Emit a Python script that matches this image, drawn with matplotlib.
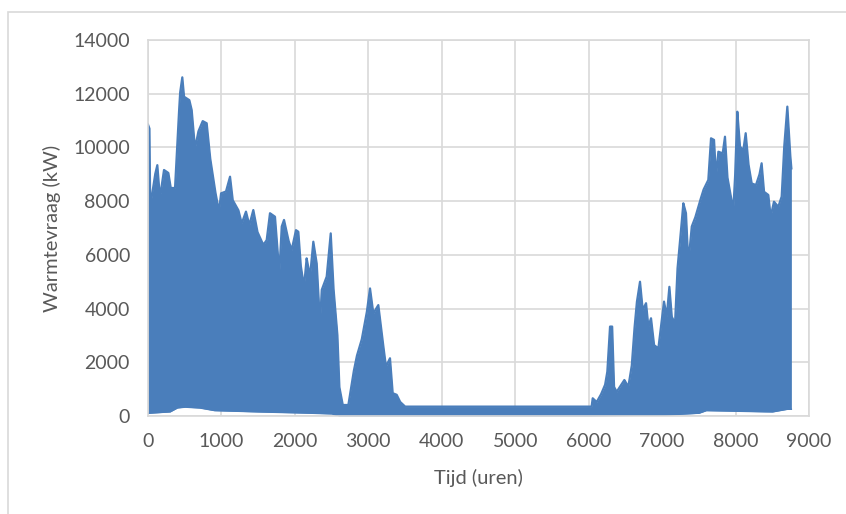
import numpy as np
import matplotlib
matplotlib.use("Agg")
import matplotlib.pyplot as plt
from matplotlib.patches import Rectangle

# upper envelope of the hourly heat demand (hour, kW)
upper_hours = [0, 20, 30, 95, 127, 150, 172, 218, 277, 309, 368, 399, 436, 467, 490,
               563, 595, 640, 685, 745, 799, 844, 912, 967, 994, 1062, 1117, 1153,
               1230, 1276, 1334, 1380, 1434, 1489, 1570, 1616, 1661, 1729, 1788, 1820,
               1852, 1911, 1956, 2015, 2047, 2079, 2124, 2160, 2206, 2251, 2297, 2342,
               2365, 2433, 2488, 2524, 2578, 2605, 2651, 2728, 2796, 2841, 2909, 2977,
               3023, 3068, 3136, 3182, 3240, 3295, 3331, 3386, 3431, 3499, 6040, 6055,
               6109, 6164, 6223, 6254, 6290, 6320, 6345, 6381, 6427, 6486, 6540, 6586,
               6618, 6654, 6699, 6736, 6781, 6813, 6849, 6890, 6949, 6995, 7026, 7063,
               7099, 7131, 7176, 7208, 7244, 7289, 7325, 7357, 7403, 7448, 7493, 7561,
               7629, 7666, 7707, 7734, 7766, 7825, 7856, 7888, 7969, 7992, 8024, 8060,
               8106, 8138, 8174, 8219, 8278, 8324, 8355, 8387, 8446, 8478, 8523, 8582,
               8628, 8659, 8705, 8741, 8760]
upper_kw = [10850, 10700, 7790, 8970, 9340, 8500, 8300, 9160, 9050, 8490, 8490, 10150,
            12010, 12610, 11890, 11760, 11390, 9960, 10590, 10980, 10900, 9650, 8410,
            7610, 8290, 8360, 8910, 8040, 7670, 7170, 7610, 7110, 7670, 6860, 6370,
            6550, 7550, 7420, 5310, 7050, 7300, 6550, 6180, 6920, 6860, 5620, 4810,
            5870, 5190, 6490, 5680, 3450, 4690, 5190, 6800, 4810, 3080, 1090, 410, 410,
            1590, 2210, 2830, 3820, 4750, 3820, 4130, 3080, 1840, 2150, 850, 790, 530,
            350, 350, 660, 520, 780, 1150, 1650, 3330, 3330, 1090, 900, 1090, 1340,
            1090, 1840, 3080, 4200, 5000, 3950, 4200, 3330, 3640, 2640, 2520, 3570,
            4260, 3700, 4810, 3700, 3450, 5440, 6500, 7920, 7550, 5680, 7050, 7360,
            7790, 8410, 8790, 10340, 10280, 8910, 9840, 9780, 10400, 8910, 7670, 8790,
            11330, 10030, 9900, 10530, 9410, 8660, 8600, 8970, 9410, 8350, 8230, 7420,
            7980, 7790, 8170, 9900, 11520, 9840, 9220]

# lower envelope (night-time minimum)
lower_hours = [0, 300, 400, 500, 700, 900, 1500, 2000, 2500, 2600, 3500, 6000, 7000,
               7500, 7600, 8000, 8500, 8700, 8760]
lower_kw = [100, 150, 300, 330, 300, 200, 150, 120, 80, 0, 0, 0, 30, 100, 200, 180,
            150, 250, 250]

xticks = [0, 1000, 2000, 3000, 4000, 5000, 6000, 7000, 8000, 9000]
yticks = [0, 2000, 4000, 6000, 8000, 10000, 12000, 14000]

blue = "#4A7EBB"
grey_txt = "#595959"
plt.rcParams["font.family"] = ["Lato", "DejaVu Sans"]

fig = plt.figure(figsize=(8.46, 5.14), dpi=100)
ax = fig.add_axes([148 / 846, 1 - 416 / 514, 661 / 846, 376 / 514])

hours = np.arange(0, 8761)
up = np.interp(hours, upper_hours, upper_kw)
low = np.interp(hours, lower_hours, lower_kw)
ax.fill_between(hours, low, up, color=blue, lw=0)
ax.plot(hours, up, color=blue, lw=1.6)
ax.plot(hours, low, color=blue, lw=1.0)

ax.set_xlim(0, 9000)
ax.set_ylim(0, 14000)
ax.set_xticks(xticks)
ax.set_yticks(yticks)
ax.grid(True, color="#D9D9D9", lw=1.2)
ax.set_axisbelow(True)
for s in ax.spines.values():
    s.set_color("#D9D9D9")
    s.set_linewidth(1.2)
ax.tick_params(length=0, labelsize=14, colors=grey_txt)
ax.tick_params(axis="x", pad=12)
ax.tick_params(axis="y", pad=13)
ax.set_xlabel("Tijd (uren)", fontsize=14.5, color=grey_txt, labelpad=14)
ax.set_ylabel("Warmtevraag (kW)", fontsize=14.5, color=grey_txt, labelpad=9)

# chart area border (cropped on the right and bottom)
fig.patches.append(Rectangle((8 / 846, -0.1), 1.2, 1.1 - 12 / 514, transform=fig.transFigure,
                             fill=False, ec="#D9D9D9", lw=1.2))

fig.savefig("out.png", dpi=100)
